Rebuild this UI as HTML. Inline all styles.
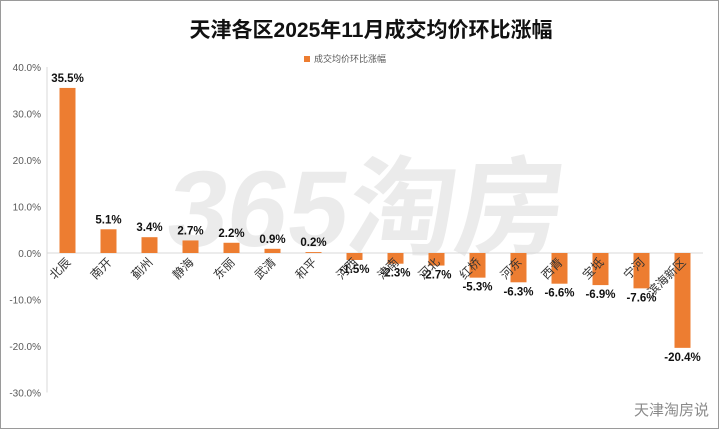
<!DOCTYPE html>
<html><head><meta charset="utf-8"><style>
body{margin:0;background:#fff}
#wrap{position:relative;width:717px;height:427px;border:1px solid #9a9a9a;overflow:hidden;font-family:"Liberation Sans","Noto Sans CJK SC",sans-serif}
</style></head><body>
<div id="wrap">
<svg id="chart" width="717" height="427"></svg>
</div>
<script>
const categories=["北辰","南开","蓟州","静海","东丽","武清","和平","河西","津南","河北","红桥","河东","西青","宝坻","宁河","滨海新区"];
const values=[35.5,5.1,3.4,2.7,2.2,0.9,0.2,-1.5,-2.3,-2.7,-5.3,-6.3,-6.6,-6.9,-7.6,-20.4];
const ticks=[40,30,20,10,0,-10,-20,-30];
const NS="http://www.w3.org/2000/svg";
const svg=document.getElementById('chart');
function mk(t,a,txt){const e=document.createElementNS(NS,t);for(const k in a)e.setAttribute(k,a[k]);if(txt!==undefined)e.textContent=txt;svg.appendChild(e);return e;}
const y=v=>252-v*4.65;
const x0=46,x1=702,step=(x1-x0)/categories.length;
const xc=i=>x0+step*(i+0.5);
let e;
e=mk('text',{x:370,y:36,'text-anchor':'middle','font-size':21,'font-weight':'bold',fill:'#111'},'天津各区2025年11月成交均价环比涨幅');


e=mk('text',{x:395,y:245,'font-size':108,'font-weight':'bold',fill:'#000','fill-opacity':0.08,'text-anchor':'middle',transform:'skewX(-8)'},'365淘房');


e=mk('rect',{x:303,y:55,width:6,height:6,fill:'#ed7d31'});


e=mk('text',{x:313,y:61,'font-size':9,fill:'#595959'},'成交均价环比涨幅');


ticks.forEach(t=>{
 e=mk('text',{x:40,y:y(t)+4,'text-anchor':'end','font-size':10,fill:'#595959'},t.toFixed(1)+'%');
 
 
});
e=mk('line',{x1:x0,y1:y(40),x2:x0,y2:y(-30),stroke:'#d9d9d9'});


e=mk('line',{x1:x0,y1:y(0),x2:x1,y2:y(0),stroke:'#d9d9d9'});


categories.forEach((c,i)=>{
 const v=values[i],cx=xc(i),w=16;
 const top=Math.min(y(v),y(0)),h=Math.abs(y(v)-y(0));
 e=mk('rect',{x:cx-w/2,y:top,width:w,height:Math.max(h,0.5),fill:'#ed7d31'});
 
 
 const ly=v>=0?y(v)-6:y(v)+13;
 e=mk('text',{x:cx,y:ly,'text-anchor':'middle','font-size':11.5,'font-weight':'bold',fill:'#111'},v.toFixed(1)+'%');
 
 
 e=mk('text',{x:cx+4,y:y(0)+10,'text-anchor':'end','font-size':12,fill:'#333',transform:`rotate(-45 ${cx+4} ${y(0)+10})`},c);
 
 
});
e=mk('text',{x:708,y:414,'text-anchor':'end','font-size':15,fill:'#8a8a8a'},'天津淘房说');


</script>
</body></html>
